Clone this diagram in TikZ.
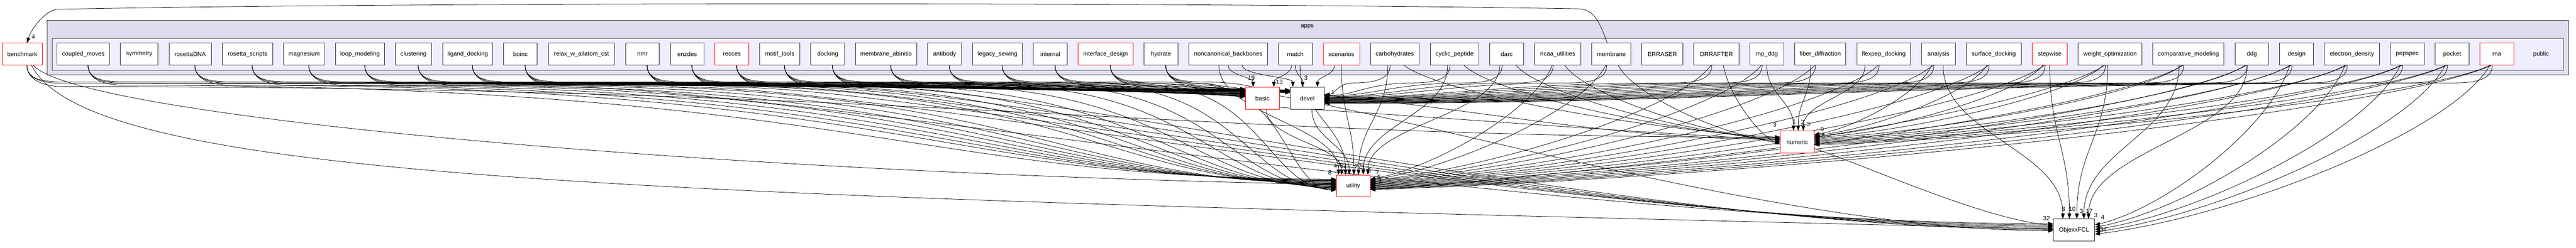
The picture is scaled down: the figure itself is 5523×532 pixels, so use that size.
\documentclass[tikz,border=0pt]{standalone}
\usepackage{fontspec}
\setmainfont{Liberation Sans}
\usetikzlibrary{arrows.meta,calc}
\pgfdeclarelayer{bg}\pgfdeclarelayer{fg}\pgfsetlayers{bg,main,fg}
\definecolor{appsfill}{HTML}{DDDDEE}
\definecolor{pubfill}{HTML}{EEEEFF}
\definecolor{clborder}{HTML}{404040}
% bundle-routed edge: src, target coord, bundle y (px), direction (+1/-1), target y offset, c1 fraction
\newcommand\depS[6]{%
 \draw[dep] let \p1=($(#1.south)+(#4*10,0)$), \p2=($(#2)+(0,#5)$), \p3=({\x1+#4*80pt},{-#3pt}) in
 (\p1) .. controls (\x1,{\y1-28pt}) and ({\x1+#4*30pt},\y3) .. (\p3)
 .. controls ({\x3+#6*(\x2-\x3)},\y3) and ({\x2-0.35*(\x2-\x3)},\y2) .. (\p2);}
% direct edge: src, target coord, x shift at src, y offset at target
\newcommand\depC[4]{%
 \draw[dep] let \p1=($(#1.south)+(#3,0)$), \p2=($(#2)+(0,#4)$) in
 (\p1) .. controls ({\x1+0.1*(\x2-\x1)},{\y1+0.4*(\y2-\y1)}) and ({\x2-0.35*(\x2-\x1)},{\y2-0.1*(\y2-\y1)}) .. (\p2);}
% edge entering from the top: src, target coord, x shift at src
\newcommand\depT[3]{%
 \draw[dep] let \p1=($(#1.south)+(#3,0)$), \p2=(#2) in
 (\p1) .. controls (\x1,{\y1+0.45*(\y2-\y1)}) and (\x2,{\y2-0.45*(\y2-\y1)}) .. (\p2);}
\begin{document}
\begin{tikzpicture}[x=1pt,y=-1pt,
 every node/.style={font=\fontsize{13}{15}\selectfont},
 dnode/.style={draw=black!85, fill=white, line width=1pt, inner sep=0pt, minimum height=47.3pt},
 rnode/.style={dnode, draw=red},
 dep/.style={draw=black, line width=0.85pt, -{Triangle[length=11pt,width=8pt]}},
 lbl/.style={inner sep=0pt}]
\useasboundingbox (0,0) rectangle (5523,532);
\begin{pgfonlayer}{bg}
\fill[white] (0,0) rectangle (5523,532);
\draw[fill=appsfill, draw=clborder, line width=1pt] (100.7,44) rectangle (5506.7,161);
\draw[fill=pubfill, draw=clborder, line width=1pt] (111.7,82.3) rectangle (5496,150.7);
\node (appslbl) at (2802.7,57.3) {apps};
\node (publbl) at (5448,116) {public};
\end{pgfonlayer}
\begin{pgfonlayer}{fg}
\node[rnode,minimum width=86pt] (bench) at (47.7,116.3) {benchmark};
\node[dnode,minimum width=112.7pt] (coupled) at (178.7,116.3) {coupled\_moves};
\node[dnode,minimum width=80.4pt] (symm) at (298.5,116.3) {symmetry};
\node[dnode,minimum width=91pt] (rdna) at (407.8,116.3) {rosettaDNA};
\node[dnode,minimum width=107.3pt] (rscripts) at (530.7,116.3) {rosetta\_scripts};
\node[dnode,minimum width=88.6pt] (magnes) at (652,116.3) {magnesium};
\node[dnode,minimum width=104.6pt] (loopm) at (772,116.3) {loop\_modeling};
\node[dnode,minimum width=77.6pt] (clust) at (886.5,116.3) {clustering};
\node[dnode,minimum width=107pt] (ligand) at (1002.8,116.3) {ligand\_docking};
\node[dnode,minimum width=72.3pt] (boinc) at (1115.8,116.3) {boinc};
\node[dnode,minimum width=142pt] (relax) at (1246.7,116.3) {relax\_w\_allatom\_cst};
\node[dnode,minimum width=72pt] (nmr) at (1377.3,116.3) {nmr};
\node[dnode,minimum width=72pt] (enzdes) at (1473.3,116.3) {enzdes};
\node[rnode,minimum width=72.7pt] (recces) at (1569.3,116.3) {recces};
\node[dnode,minimum width=85.7pt] (motif) at (1671.8,116.3) {motif\_tools};
\node[dnode,minimum width=72.7pt] (docking) at (1774.7,116.3) {docking};
\node[dnode,minimum width=131pt] (memab) at (1899.8,116.3) {membrane\_abinitio};
\node[dnode,minimum width=72.3pt] (antibody) at (2025.2,116.3) {antibody};
\node[dnode,minimum width=107.3pt] (sewing) at (2138.7,116.3) {legacy\_sewing};
\node[dnode,minimum width=72.6pt] (internal) at (2252,116.3) {internal};
\node[rnode,minimum width=117.6pt] (ifdesign) at (2370.5,116.3) {interface\_design};
\node[dnode,minimum width=72.7pt] (hydrate) at (2489.3,116.3) {hydrate};
\node[dnode,minimum width=168.7pt] (noncanon) at (2633.3,116.3) {noncanonical\_backbones};
\node[dnode,minimum width=72.3pt] (match) at (2777.2,116.3) {match};
\node[rnode,minimum width=78pt] (scen) at (2876,116.3) {scenarios};
\node[dnode,minimum width=104.4pt] (carbo) at (2990.5,116.3) {carbohydrates};
\node[dnode,minimum width=104.7pt] (cyclic) at (3118.7,116.3) {cyclic\_peptide};
\node[dnode,minimum width=72.4pt] (darc) at (3230.5,116.3) {darc};
\node[dnode,minimum width=99.4pt] (ncaa) at (3340,116.3) {ncaa\_utilities};
\node[dnode,minimum width=83.3pt] (membrane) at (3454.7,116.3) {membrane};
\node[dnode,minimum width=88.6pt] (erraser) at (3564,116.3) {ERRASER};
\node[dnode,minimum width=96.6pt] (drrafter) at (3680,116.3) {DRRAFTER};
\node[dnode,minimum width=72.6pt] (rnpddg) at (3788,116.3) {rnp\_ddg};
\node[dnode,minimum width=109.6pt] (fiber) at (3902.5,116.3) {fiber\_diffraction};
\node[dnode,minimum width=115.3pt] (flexpep) at (4038.7,116.3) {flexpep\_docking};
\node[dnode,minimum width=72.6pt] (analysis) at (4156,116.3) {analysis};
\node[dnode,minimum width=118pt] (surfdock) at (4274.7,116.3) {surface\_docking};
\node[rnode,minimum width=75.3pt] (stepwise) at (4394.7,116.3) {stepwise};
\node[dnode,minimum width=136.6pt] (weightopt) at (4524,116.3) {weight\_optimization};
\node[dnode,minimum width=152.6pt] (compmod) at (4692,116.3) {comparative\_modeling};
\node[dnode,minimum width=72.6pt] (ddg) at (4828,116.3) {ddg};
\node[dnode,minimum width=72.6pt] (design) at (4924,116.3) {design};
\node[dnode,minimum width=117.6pt] (edens) at (5042.5,116.3) {electron\_density};
\node[dnode,minimum width=72.3pt] (pepspec) at (5161.2,116.3) {pepspec};
\node[dnode,minimum width=72.7pt] (pocket) at (5257.3,116.3) {pocket};
\node[rnode,minimum width=72.7pt] (rna) at (5353.3,116.3) {rna};
\node[rnode,minimum width=72pt] (basic) at (2706.7,210.8) {basic};
\node[dnode,minimum width=72.7pt] (devel) at (2802.7,210.8) {devel};
\node[rnode,minimum width=72pt] (utility) at (2901.3,399.3) {utility};
\node[rnode,minimum width=72pt] (numeric) at (3853.3,304.8) {numeric};
\node[dnode,minimum width=88.3pt] (objexx) at (4446.8,493.8) {ObjexxFCL};
\coordinate (bW) at ($(basic.west)+(0,-6)$);
\coordinate (bN) at ($(basic.north)+(-20,0)$);
\coordinate (bNE) at ($(basic.north east)+(-12,0)$);
\coordinate (dW) at ($(devel.west)+(0,-14)$);
\coordinate (dE) at (devel.east);
\coordinate (dN0) at ($(devel.north west)+(6,0)$);
\coordinate (dN1) at ($(devel.north)+(-10,0)$);
\coordinate (dN2) at ($(devel.north)+(22,0)$);
\coordinate (uW) at (utility.west);
\coordinate (uE) at (utility.east);
\coordinate (uT1) at ($(utility.north west)+(5,0)$);
\coordinate (uT2) at ($(utility.north west)+(12,0)$);
\coordinate (uT3) at ($(utility.north west)+(20,0)$);
\coordinate (uT4) at ($(utility.north west)+(28,0)$);
\coordinate (uT5) at ($(utility.north west)+(38,0)$);
\coordinate (uT6) at ($(utility.north west)+(48,0)$);
\coordinate (uT7) at ($(utility.north west)+(58,0)$);
\coordinate (uT8) at ($(utility.north west)+(68,0)$);
\coordinate (nW) at (numeric.west);
\coordinate (nE) at (numeric.east);
\coordinate (nN1) at ($(numeric.north)+(-8,0)$);
\coordinate (nN2) at ($(numeric.north)+(2,0)$);
\coordinate (nN3) at ($(numeric.north)+(13,0)$);
\coordinate (oW) at (objexx.west);
\coordinate (oE) at (objexx.east);
\coordinate (oN1) at ($(objexx.north)+(-24,0)$);
\coordinate (oN2) at ($(objexx.north)+(-10,0)$);
\coordinate (oN3) at ($(objexx.north)+(6,0)$);
\coordinate (oN4) at ($(objexx.north)+(21,0)$);
\coordinate (oN5) at ($(objexx.north)+(31,0)$);
\end{pgfonlayer}
% ---- edges
\draw[dep] ($(membrane.north)+(-8.7,0)$) .. controls (3430,50) and (3420,22) .. (3387,19)
  .. controls (2600,5) and (900,4) .. (120,20) .. controls (95,26) and (68,60) .. ($(bench.north)+(10,0)$);
\foreach \s [count=\i] in {bench,coupled,rdna,rscripts,magnes,loopm,clust,ligand,boinc,nmr,enzdes,recces,motif,docking,memab,antibody,sewing,internal,ifdesign,hydrate}{
  \pgfmathsetmacro\dya{-15+0.9*\i}
  \pgfmathsetmacro\dyb{-4+0.3*\i}
  \depS{\s}{bW}{179}{1}{\dya}{0.55}
  \depS{\s}{dW}{176}{1}{\dyb}{0.6}
}
\foreach \s [count=\i] in {coupled,rdna,rscripts,magnes,loopm,clust,ligand,boinc,nmr,enzdes,recces,motif,docking,memab,antibody,sewing,internal,ifdesign,hydrate}{
  \pgfmathsetmacro\dyc{-16+1.3*\i}
  \depS{\s}{uW}{183}{1}{\dyc}{0.6}
}
\depS{bench}{nW}{186}{1}{-10}{0.5}
\depS{ifdesign}{nW}{186}{1}{-6}{0.4}
\foreach \s [count=\i] in {boinc,nmr,enzdes,recces,motif,docking,hydrate}{
  \pgfmathsetmacro\dyd{-16+2.5*\i}
  \depS{\s}{oW}{187}{1}{\dyd}{0.15}
}
\draw[dep] ($(bench.south)+(24,0)$) .. controls (170,250) and (1500,370) .. ($(utility.west)+(0,-3)$);
\draw[dep] ($(bench.south)+(20,0)$) .. controls (200,400) and (1500,420) .. ($(objexx.west)+(0,-2)$);
% middle
\depT{noncanon}{bN}{0}
\depT{noncanon}{dN0}{30}
\depT{noncanon}{uT1}{-20}
\depT{match}{bNE}{-8}
\depT{match}{dN1}{0}
\depT{match}{uT3}{10}
\depT{scen}{dN2}{-15}
\depT{scen}{uT5}{0}
\depT{basic}{uT2}{8}
\depT{devel}{uT4}{10}
\depS{carbo}{dE}{178}{-1}{-8}{0.5}
\depT{carbo}{uT6}{-15}
\depC{carbo}{nW}{20}{-10}
\depS{cyclic}{dE}{178}{-1}{-6}{0.5}
\depT{cyclic}{uT7}{-15}
\depC{cyclic}{nW}{20}{-7}
\depS{darc}{dE}{178}{-1}{-5}{0.5}
\depT{darc}{uT8}{-15}
\depC{darc}{nW}{20}{-4}
% right group
\foreach \s [count=\i] in {ncaa,membrane,drrafter,rnpddg,fiber,flexpep,analysis,surfdock,stepwise,weightopt,compmod,ddg,design,edens,pepspec,pocket,rna}{
  \pgfmathsetmacro\dya{-4+0.9*\i}
  \pgfmathsetmacro\dyb{-16+1.4*\i}
  \depS{\s}{dE}{178}{-1}{\dya}{0.5}
  \depC{\s}{uE}{-12}{\dyb}
}
\depC{ncaa}{nW}{15}{-1}
\depC{membrane}{nW}{15}{2}
\depC{drrafter}{nW}{15}{5}
\depT{rnpddg}{nN1}{0}
\depT{fiber}{nN2}{-20}
\depT{flexpep}{nN3}{-40}
\foreach \s [count=\i] in {analysis,surfdock,stepwise,weightopt,compmod,ddg,design,edens,pepspec,pocket,rna}{
  \pgfmathsetmacro\dye{-18+2.2*\i}
  \depC{\s}{nE}{-15}{\dye}
}
\depT{analysis}{oN1}{10}
\depT{stepwise}{oN2}{0}
\depT{weightopt}{oN3}{-5}
\depT{compmod}{oN4}{-20}
\depT{ddg}{oN5}{-10}
\foreach \s [count=\i] in {design,edens,pepspec,pocket,rna}{
  \pgfmathsetmacro\dyf{-16+5*\i}
  \depC{\s}{oE}{-15}{\dyf}
}
\draw[dep] ($(basic.east)+(0,20)$) .. controls (3000,245) and (3500,285) .. ($(numeric.west)+(0,-5)$);
\draw[dep] ($(numeric.west)+(0,12)$) .. controls (3600,345) and (3200,390) .. ($(utility.east)+(0,8)$);
\draw[dep] ($(numeric.east)+(0,14)$) .. controls (4000,355) and (4250,470) .. ($(objexx.west)+(0,-10)$);
% ---- labels
\begin{pgfonlayer}{fg}
\node[lbl] (l1) at (71.7,79.3) {4};
\node[lbl] (l2) at (2683,167) {19};
\node[lbl] (l3) at (2743,176) {13};
\node[lbl] (l4) at (2800,167) {3};
\node[lbl] (l5) at (2857.7,198.3) {1};
\node[lbl] (l6) at (2851,370) {8};
\node[lbl] (l7) at (2866.7,356) {47};
\node[lbl] (l8) at (2880,356) {62};
\node[lbl] (l9) at (2912,357) {27};
\node[lbl] (l10) at (2922,360) {3};
\node[lbl] (l11) at (2936,366) {5};
\node[lbl] (l12) at (2953,370) {7};
\node[lbl] (l13) at (2957,380) {5};
\node[lbl] (l14) at (2960,388) {1};
\node[lbl] (l15) at (3846.7,261) {1};
\node[lbl] (l16) at (3865,262.7) {2};
\node[lbl] (l17) at (3877,266.7) {3};
\node[lbl] (l18) at (3805,268.3) {3};
\node[lbl] (l19) at (3907,277.3) {9};
\node[lbl] (l20) at (3909,291) {8};
\node[lbl] (l21) at (4424,449.3) {3};
\node[lbl] (l22) at (4442.7,449.3) {10};
\node[lbl] (l23) at (4462.7,453.3) {3};
\node[lbl] (l24) at (4479.3,453.3) {17};
\node[lbl] (l25) at (4493.3,462.7) {3};
\node[lbl] (l26) at (4508.3,466.7) {4};
\node[lbl] (l27) at (4387.7,469.3) {32};
\node[lbl] (l28) at (4510,493.3) {34};
\end{pgfonlayer}
\end{tikzpicture}
\end{document}
